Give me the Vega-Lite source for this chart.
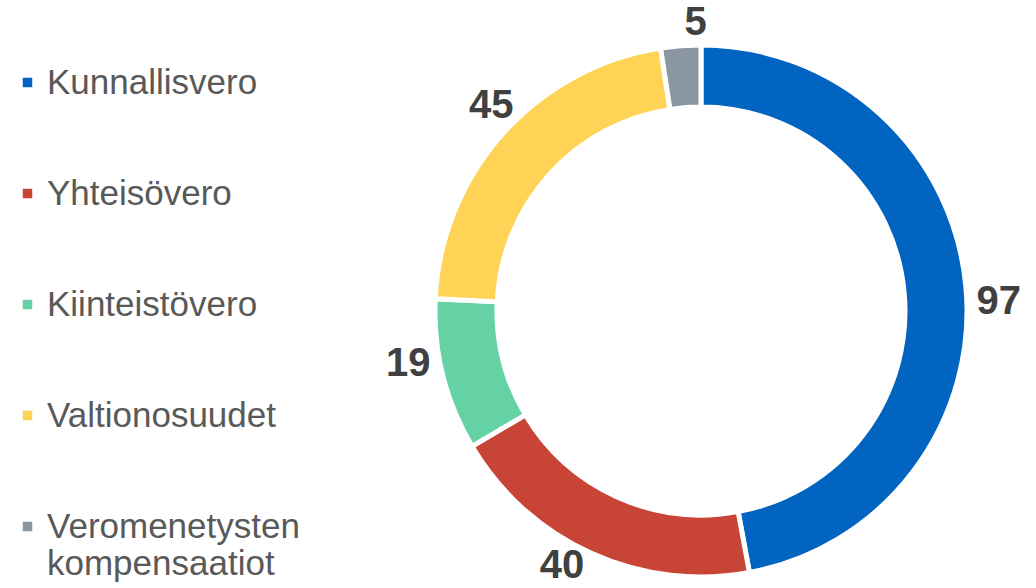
{
  "$schema": "https://vega.github.io/schema/vega-lite/v6.json",
  "width": 534,
  "height": 532,
  "autosize": "none",
  "padding": {"left": 434, "top": 45, "right": 68, "bottom": 11},
  "background": "white",
  "config": {"view": {"stroke": null}, "font": "Liberation Sans"},
  "data": {"values": [
    {"category": "Kunnallisvero", "value": 97, "order": 1},
    {"category": "Yhteisövero", "value": 40, "order": 2},
    {"category": "Kiinteistövero", "value": 19, "order": 3},
    {"category": "Valtionosuudet", "value": 45, "order": 4},
    {"category": "Veromenetysten kompensaatiot", "value": 5, "order": 5}
  ]},
  "encoding": {
    "theta": {"field": "value", "type": "quantitative", "stack": true},
    "order": {"field": "order", "type": "quantitative"}
  },
  "layer": [
    {
      "mark": {"type": "arc", "innerRadius": 204, "outerRadius": 266, "stroke": "white", "strokeWidth": 5},
      "encoding": {
        "color": {
          "field": "category", "type": "nominal",
          "scale": {
            "domain": ["Kunnallisvero", "Yhteisövero", "Kiinteistövero", "Valtionosuudet", "Veromenetysten kompensaatiot"],
            "range": ["#0064C0", "#C84436", "#64D2A5", "#FFD456", "#8A96A0"]
          },
          "legend": {
            "orient": "none",
            "legendX": -424,
            "legendY": 20,
            "title": null,
            "symbolType": "square",
            "symbolSize": 90,
            "symbolStrokeWidth": 0,
            "labelFontSize": 35,
            "labelColor": "#595959",
            "labelFont": "Liberation Sans",
            "labelLimit": 400,
            "labelOffset": 2,
            "rowPadding": 75,
            "labelExpr": "datum.label == 'Veromenetysten kompensaatiot' ? ['Veromenetysten', 'kompensaatiot'] : datum.label"
          }
        }
      }
    },
    {
      "mark": {
        "type": "text", "radius": 288, "thetaOffset": 0.06, "fontSize": 40, "fontWeight": "bold", "color": "#404040", "font": "Liberation Sans",
        "dx": {"expr": "sin(scale('theta', (datum.value_start + datum.value_end) / 2)) * 10"}
      },
      "encoding": {"text": {"field": "value", "type": "quantitative"}}
    }
  ]
}
